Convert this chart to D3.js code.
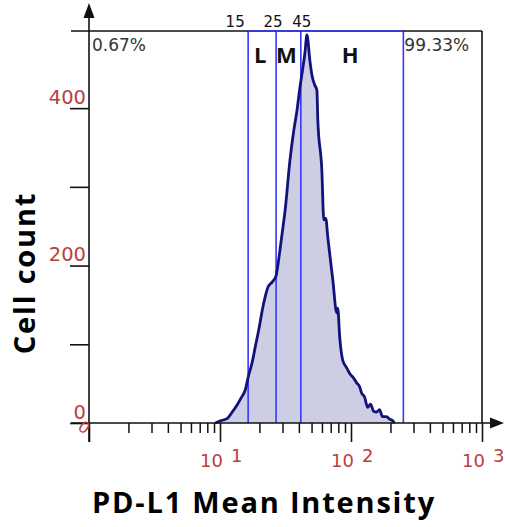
<!DOCTYPE html>
<html>
<head>
<meta charset="utf-8">
<script src="https://cdn.jsdelivr.net/npm/d3@7"></script>
<style>
  html, body { margin: 0; padding: 0; background: #fff; }
  svg { display: block; }
</style>
</head>
<body>
<svg id="chart" width="505" height="527"></svg>
<script>
//DATA
const intensity = [9.2, 10.2, 11.4, 12.4, 13.5, 14.5, 15.6, 16.4, 17.6, 18.6, 19.9, 21.0, 22.1, 23.3, 25.0, 26.8,
  27.7, 28.7, 30.2, 31.4, 34.2, 36.6, 38.7, 40.8, 42.9, 44.5, 46.1, 48.5, 50.3, 53.0, 54.9, 55.8, 59.9, 62.0,
  64.2, 66.5, 72.6, 77.8, 79.2, 82.0, 86.4, 92.7, 97.7, 104.8, 110.4, 116.4, 120.5, 127.0, 133.8, 141.1,
  148.6, 156.6, 165.1, 174.0, 186.6, 196.7, 207.3, 214.6];
const counts = [0, 3, 6, 14, 23, 32, 42, 58, 77, 97, 121, 143, 160, 173, 179, 187,
  201, 220, 248, 270, 334, 372, 397, 427, 451, 470, 493, 461, 442, 429, 423, 385, 321, 258,
  260, 236, 182, 140, 146, 109, 80, 70, 63, 57, 51, 46, 38, 33, 20, 24,
  15, 14, 17, 8, 8, 5, 3, 0];

const gateEdges = [16.4, 26.8, 41.4, 251];
const gateNames = ["L", "M", "H"];
const gateValueLabels = ["15", "25", "45"];
const outsidePct = ["0.67%", "99.33%"];

const yTicks = [0, 100, 200, 300, 400];
const yTickLabels = ["0", "", "200", "", "400"];
const xMajor = [1, 10, 100, 1000];
const xExponents = ["", "1", "2", "3"];
const yMax = 498;

//COLORS
const red = "#b8403f";
const blue = "#3636ff";
const navy = "#12127c";
const lavender = "#cdcde3";

//SCALES
const svg = d3.select("#chart");
const x = d3.scaleLog().domain([1, 1000]).range([89, 482]);
const y = d3.scaleLinear().domain([0, yMax]).range([423, 31]);
const plotLeft = x(1), plotRight = x(1000), plotTop = y(yMax), plotBottom = y(0);

//HISTOGRAM
const hist = intensity.map((v, i) => ({v: v, c: counts[i]}));
const area = d3.area().x(d => x(d.v)).y0(y(0)).y1(d => y(d.c)).curve(d3.curveMonotoneX);
const line = d3.line().x(d => x(d.v)).y(d => y(d.c)).curve(d3.curveMonotoneX);
svg.append("path").attr("d", area(hist)).attr("fill", lavender);

//GATES
gateEdges.forEach(g => {
  svg.append("line").attr("x1", x(g)).attr("x2", x(g)).attr("y1", plotTop).attr("y2", plotBottom)
    .attr("stroke", blue).attr("stroke-width", 1.6);
});

svg.append("path").attr("d", line(hist)).attr("fill", "none")
  .attr("stroke", navy).attr("stroke-width", 2.8).attr("stroke-linejoin", "round");

//FRAME
svg.append("line").attr("x1", 71).attr("x2", plotRight).attr("y1", plotTop).attr("y2", plotTop)
  .attr("stroke", "#111").attr("stroke-width", 1.6);
svg.append("line").attr("x1", plotRight).attr("x2", plotRight).attr("y1", plotTop).attr("y2", plotBottom)
  .attr("stroke", "#111").attr("stroke-width", 1.6);
svg.append("line").attr("x1", x(gateEdges[0])).attr("x2", x(gateEdges[3])).attr("y1", plotTop).attr("y2", plotTop)
  .attr("stroke", blue).attr("stroke-width", 1.6);

//Y AXIS
const yAxis = svg.append("g").attr("transform", "translate(" + plotLeft + ",0)")
  .call(d3.axisLeft(y).tickValues(yTicks).tickSize(19).tickPadding(-16)
    .tickFormat((d, i) => yTickLabels[i]));
yAxis.select(".domain").remove();
yAxis.selectAll(".tick line").attr("stroke", "#111").attr("stroke-width", 1.6);
yAxis.selectAll(".tick text").attr("dy", "-0.25em").attr("fill", red)
  .style("font-family", "DejaVu Sans").style("font-size", "19.5px");
svg.append("line").attr("x1", plotLeft).attr("x2", plotLeft).attr("y1", 12).attr("y2", 442)
  .attr("stroke", "#111").attr("stroke-width", 1.6);
svg.append("path").attr("d", "M" + plotLeft + ",3 L" + (plotLeft - 5.5) + ",18 L" + (plotLeft + 5.5) + ",18 Z").attr("fill", "#111");

//X AXIS
const minor = [];
for (let k = 0; k < 3; k++) for (let m = 2; m <= 9; m++) minor.push(m * Math.pow(10, k));
const xMinor = svg.append("g").attr("transform", "translate(0," + plotBottom + ")")
  .call(d3.axisBottom(x).tickValues(minor).tickSize(10).tickFormat(""));
xMinor.select(".domain").remove();
xMinor.selectAll(".tick line").attr("stroke", "#111").attr("stroke-width", 1.5);
const xMaj = svg.append("g").attr("transform", "translate(0," + plotBottom + ")")
  .call(d3.axisBottom(x).tickValues(xMajor).tickSize(19).tickFormat(""));
xMaj.select(".domain").remove();
xMaj.selectAll(".tick line").attr("stroke", "#111").attr("stroke-width", 1.6);
svg.append("line").attr("x1", 71).attr("x2", 494).attr("y1", plotBottom).attr("y2", plotBottom)
  .attr("stroke", "#111").attr("stroke-width", 1.6);
svg.append("path").attr("d", "M504," + plotBottom + " L490," + (plotBottom - 5.5) + " L490," + (plotBottom + 5.5) + " Z").attr("fill", "#111");

xMajor.forEach((d, i) => {
  if (!xExponents[i]) return;
  svg.append("text").attr("x", x(d) + 3).attr("y", plotBottom + 44).attr("text-anchor", "end")
    .attr("fill", red).style("font-family", "DejaVu Sans").style("font-size", "18px").text("10");
  svg.append("text").attr("x", x(d) + 11).attr("y", plotBottom + 39)
    .attr("fill", red).style("font-family", "DejaVu Sans").style("font-size", "18px").text(xExponents[i]);
});
svg.append("text").attr("transform", "translate(81,432) rotate(35)").attr("text-anchor", "middle")
  .attr("fill", red).style("font-family", "DejaVu Sans").style("font-size", "16px").text("0");

//GATE LABELS
const labelShift = [-13, -3, 1];
gateValueLabels.forEach((t, i) => {
  svg.append("text").attr("x", x(gateEdges[i]) + labelShift[i]).attr("y", 27).attr("text-anchor", "middle")
    .attr("fill", "#111").style("font-family", "DejaVu Sans").style("font-size", "15px").text(t);
});
gateNames.forEach((t, i) => {
  const mid = Math.sqrt(gateEdges[i] * gateEdges[i + 1]);
  svg.append("text").attr("x", x(mid) - 2).attr("y", 63).attr("text-anchor", "middle")
    .attr("fill", "#111").style("font-family", "Open Sans").style("font-weight", "bold")
    .style("font-size", "22px").text(t);
});
svg.append("text").attr("x", plotLeft + 3).attr("y", 51).attr("fill", "#333")
  .style("font-family", "DejaVu Sans").style("font-size", "17px").text(outsidePct[0]);
svg.append("text").attr("x", x(gateEdges[3]) + 1).attr("y", 51).attr("fill", "#333")
  .style("font-family", "DejaVu Sans").style("font-size", "17px").text(outsidePct[1]);

//AXIS TITLES
svg.append("text").attr("x", 264).attr("y", 513).attr("text-anchor", "middle")
  .attr("fill", "#000").style("font-family", "Open Sans").style("font-weight", "bold")
  .style("font-size", "29px").style("letter-spacing", "1.8px").text("PD-L1 Mean Intensity");
svg.append("text").attr("transform", "translate(35,273) rotate(-90)").attr("text-anchor", "middle")
  .attr("fill", "#000").style("font-family", "Open Sans").style("font-weight", "bold")
  .style("font-size", "29px").style("letter-spacing", "1.8px").text("Cell count");
</script>
</body>
</html>
